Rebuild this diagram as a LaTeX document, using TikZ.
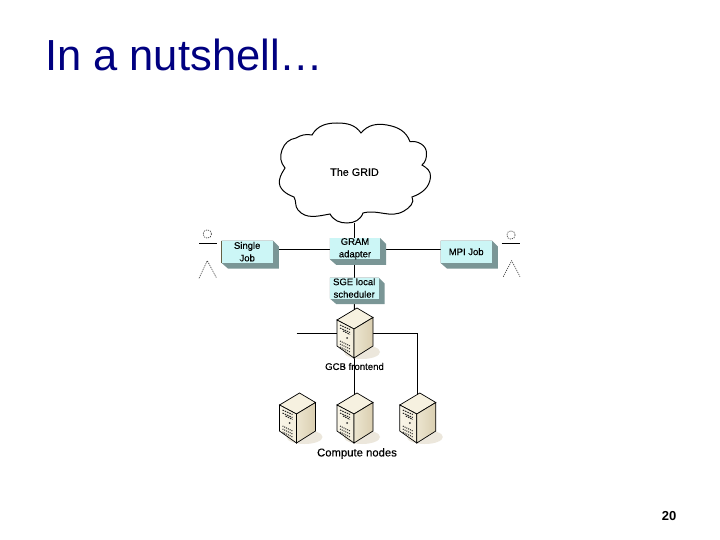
\documentclass[tikz,border=0pt]{standalone}
\usepackage{fontspec}
\setmainfont{Liberation Sans}
\newfontfamily\heavy[FakeBold=0.35]{Liberation Sans}
\definecolor{navyt}{RGB}{0,0,128}
\definecolor{boxface}{RGB}{204,246,246}
\definecolor{boxshade}{RGB}{122,150,150}
\definecolor{srvlight}{RGB}{250,246,232}
\definecolor{srvtop}{RGB}{246,241,224}
\definecolor{srvdark}{RGB}{205,190,150}
\definecolor{srvshadow}{RGB}{236,231,220}
\tikzset{
  x=1pt,y=-1pt,
  wire/.style={draw=black,line width=1pt},
  lbl/.style={font=\heavy\fontsize{9.6}{11}\selectfont,text=black,inner sep=0pt,align=center},
  boxlbl/.style={font=\heavy\fontsize{9.5}{12.5}\selectfont,text=black,inner sep=0pt,align=center},
  flowbox/.style={rectangle,fill=boxface,draw=none,inner sep=0pt,minimum width=51pt,minimum height=22pt,boxlbl},
  limb/.style={draw=black!80,line width=0.6pt,dash pattern=on 1.2pt off 1pt},
  srv/.pic={
    \fill[srvshadow] (7,19) ellipse [x radius=18, y radius=7];
    \fill[srvtop,draw=black,line width=0.7pt] (2,-25) -- (18,-15.5) -- (-1,-4) -- (-18,-13) -- cycle;
    \shade[left color=srvlight,right color=srvlight!85!srvdark,draw=black,line width=0.7pt] (-18,-13) -- (-1,-4) -- (-1,25) -- (-18,13) -- cycle;
    \shade[left color=srvlight!70!srvdark,right color=srvdark!75!white,draw=black,line width=0.7pt] (-1,-4) -- (18,-15.5) -- (18,13) -- (-1,25) -- cycle;
    \draw[black!85,line width=1pt,dash pattern=on 1.5pt off 1pt] (-15,-8) -- (-5,-3.5) (-15,-5) -- (-5,-0.5) (-12,-2) -- (-5,1.5);
    \fill[black!80] (-8,5) circle [radius=1];
    \draw[black!85,line width=1pt,dash pattern=on 1pt off 1pt] (-15,8) -- (-5,13) (-15,11) -- (-5,16) (-15,14) -- (-5,19);
  }
}
\begin{document}
\begin{tikzpicture}
\useasboundingbox (0,0) rectangle (720,540);
\fill[white] (0,0) rectangle (720,540);
% title and page number
\node[anchor=west,inner sep=0pt,font=\fontsize{43.5}{46}\selectfont,text=navyt] (title) at (45,55) {In a nutshell…};
\node[inner sep=0pt,font=\bfseries\fontsize{13}{14}\selectfont,text=black] (pagenum) at (669,516) {20};
% named anchors
\coordinate (cloudbot) at (354.3,223);
\coordinate (wireleft) at (296.7,333.3);
\coordinate (corner) at (417.3,333.3);
% boxes
\node[flowbox] (single) at (247.2,251.7) {};
\node[flowbox,minimum width=50pt,minimum height=20.7pt] (gram) at (355,248.7) {};
\node[flowbox,minimum width=48.3pt,minimum height=20.6pt] (sge) at (354.2,288) {};
\node[flowbox] (mpi) at (466.2,251.7) {};
% connectors
\coordinate (frontc) at (354.5,333.3);
\coordinate (nodemid) at (354.5,418);
\coordinate (noderight) at (417.8,418);
\coordinate (hubw) at (354.5,249.3);
\draw[wire] (cloudbot) -- (cloudbot |- sge.north);
\draw[wire] (single.east |- hubw) -- (mpi.west |- hubw);
\draw[wire] (sge) -- (frontc);
\draw[wire] (wireleft) -- (frontc) -- (corner) -- (corner |- noderight);
\draw[wire] (frontc) -- (nodemid);
% 3-D boxes
\foreach \n/\w/\h in {single/51/22,gram/50/20.7,sge/48.3/20.6,mpi/51/22}{
  \fill[boxshade] (\n.north west) -- (\n.north east) -- ++(6,6) -- ++(0,\h) -- ++(-\w,0) -- (\n.south west) -- cycle;
  \fill[boxface] (\n.north west) rectangle (\n.south east);
}
\draw[black!70!yellow,line width=0.5pt] (single.north west) -- (single.south west);
\node[boxlbl] at (single) {Single\\Job};
\node[boxlbl] at (gram) {GRAM\\adapter};
\node[boxlbl] at (sge) {SGE local\\scheduler};
\node[boxlbl] at (mpi) {MPI Job};
% cloud
\draw[black,line width=1pt,fill=white]
  (312,135) to[out=60,in=180] (337,123) to[out=0,in=125] (361,133)
  to[out=50,in=170] (387,125) to[out=-10,in=110] (410,141.7)
  to[out=10,in=90] (426.5,153) to[out=-90,in=40] (422,165)
  to[out=-30,in=85] (430.5,177) to[out=-95,in=20] (412,197)
  to[out=-60,in=30] (404,211) to[out=-150,in=15] (363,213)
  to[out=-110,in=0] (347,223) to[out=180,in=-60] (330,214)
  to[out=190,in=-50] (298,210) to[out=130,in=-60] (294,197)
  to[out=160,in=-100] (279.5,180) to[out=80,in=-120] (285,168)
  to[out=130,in=-110] (282,150) to[out=70,in=190] (296,138)
  to[out=30,in=170] (312,135) -- cycle;
\node[lbl,font=\heavy\fontsize{10.8}{12}\selectfont] (grid) at (354.5,172) {The GRID};
% actors
\draw[limb] (207.3,234) circle [radius=4.2];
\draw[black,line width=0.8pt] (199,243.3) -- (216.7,243.3);
\draw[limb] (199,278.3) -- (207.3,260.7) -- (216.7,278.3);
\draw[limb] (511,235) circle [radius=4.2];
\draw[black,line width=0.8pt] (501.7,243.3) -- (520,243.3);
\draw[limb] (503.3,276.7) -- (511.7,260.7) -- (520,276.7);
% servers
\pic at (355,333) {srv};
\pic at (297.5,418) {srv};
\pic at (355,418) {srv};
\pic at (417.8,418) {srv};
\node[lbl] (gcb) at (354.5,366.5) {GCB frontend};
\node[lbl,font=\heavy\fontsize{11.3}{12}\selectfont] (compute) at (357,453.5) {Compute nodes};
\end{tikzpicture}
\end{document}
